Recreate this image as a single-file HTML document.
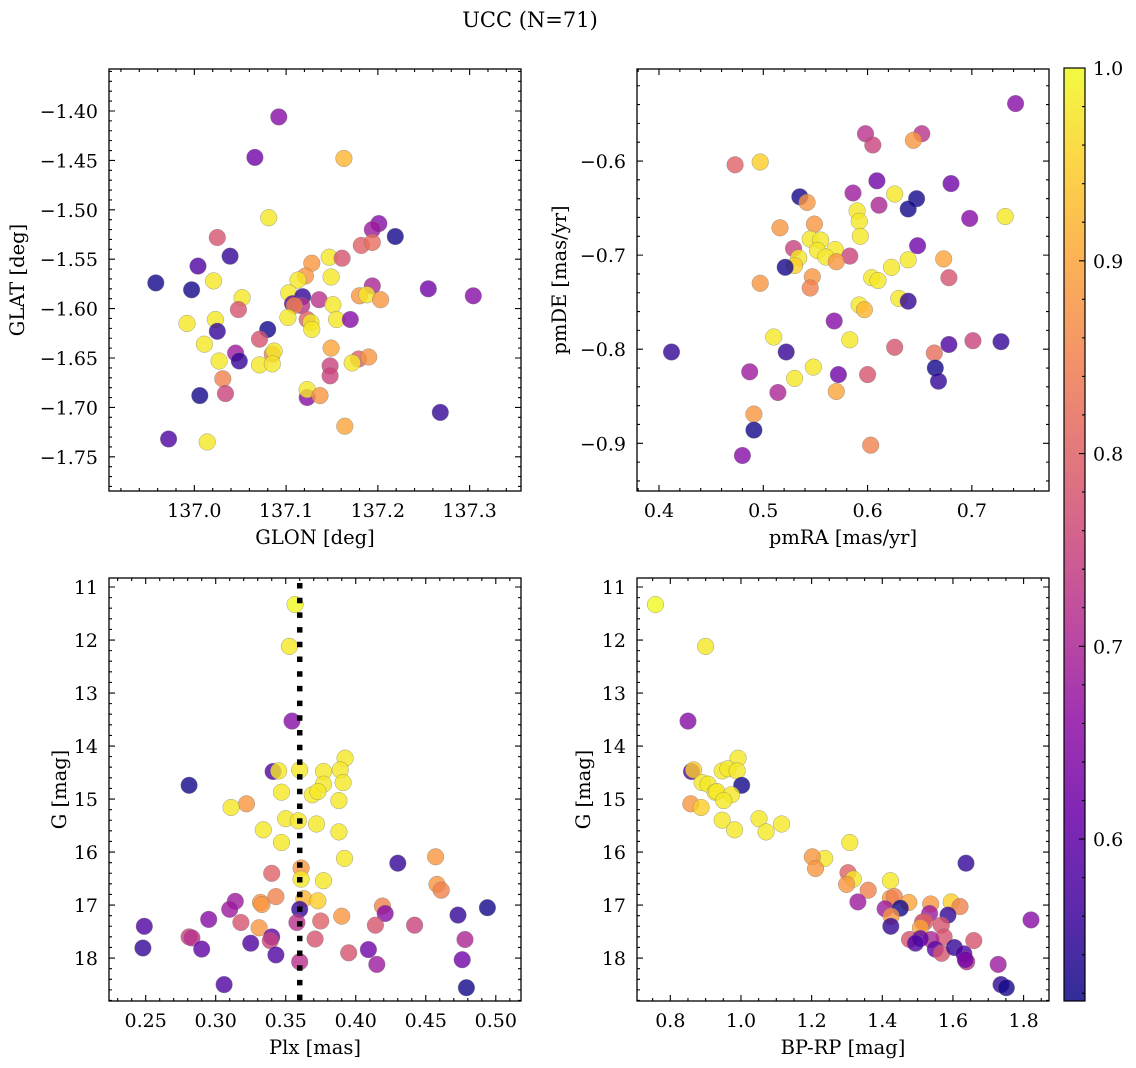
<!DOCTYPE html>
<html><head><meta charset="utf-8"><title>UCC (N=71)</title>
<style>
html,body{margin:0;padding:0;background:#fff;}
svg{display:block;font-family:"DejaVu Serif","Liberation Serif",serif;}
</style></head>
<body>
<svg id="fig" width="1136" height="1068" viewBox="0 0 1136 1068" xmlns="http://www.w3.org/2000/svg">
<defs>
<linearGradient id="cbgrad" x1="0" y1="1" x2="0" y2="0"></linearGradient>
</defs>
<text x="530" y="27" font-size="21" text-anchor="middle">UCC (N=71)</text>
</svg>
<script>
// ---- Panel 1 data: GLON vs GLAT ----
const p1Glon=[137.092,137.066,137.163,137.081,137.025,137.201,137.194,137.219,137.182,137.194,137.039,137.004,137.147,137.161,137.128,137.121,137.149,137.113,136.958,137.021,136.997,137.194,137.255,137.304,137.052,137.103,137.118,137.136,137.180,137.188,137.203,137.107,137.117,137.109,137.151,137.048,137.102,137.123,137.127,137.128,137.155,137.170,136.992,137.023,137.025,137.080,137.071,137.011,137.149,137.045,137.049,137.027,137.085,137.087,137.071,137.085,137.148,137.148,137.179,137.190,137.172,137.031,137.034,137.006,137.123,137.123,137.137,137.268,137.164,136.972,137.014];
const p1Glat=[-1.406,-1.447,-1.448,-1.508,-1.528,-1.514,-1.520,-1.527,-1.536,-1.533,-1.547,-1.557,-1.548,-1.549,-1.554,-1.567,-1.568,-1.571,-1.574,-1.572,-1.581,-1.577,-1.580,-1.587,-1.589,-1.584,-1.588,-1.591,-1.587,-1.586,-1.591,-1.595,-1.597,-1.597,-1.596,-1.601,-1.609,-1.611,-1.614,-1.621,-1.611,-1.611,-1.615,-1.611,-1.623,-1.621,-1.631,-1.636,-1.640,-1.645,-1.653,-1.653,-1.646,-1.643,-1.657,-1.656,-1.658,-1.668,-1.651,-1.649,-1.655,-1.671,-1.686,-1.688,-1.690,-1.682,-1.688,-1.705,-1.719,-1.732,-1.735];
const p1Prob=[0.65,0.62,0.92,0.98,0.78,0.65,0.68,0.52,0.80,0.82,0.55,0.58,0.98,0.78,0.88,0.88,0.98,0.98,0.52,0.98,0.52,0.70,0.62,0.65,0.98,0.98,0.55,0.72,0.88,0.98,0.88,0.60,0.72,0.85,0.98,0.78,0.98,0.80,0.98,0.98,0.98,0.65,0.98,0.98,0.55,0.52,0.78,0.98,0.90,0.68,0.55,0.98,0.85,0.98,0.98,0.98,0.75,0.75,0.80,0.88,0.98,0.85,0.75,0.52,0.65,0.98,0.88,0.55,0.90,0.58,0.98];
// ---- Panel 2 data: pmRA vs pmDE ----
const p2PmRA=[0.742,0.598,0.605,0.652,0.644,0.473,0.497,0.609,0.680,0.586,0.626,0.535,0.542,0.647,0.639,0.611,0.590,0.592,0.698,0.732,0.516,0.549,0.593,0.545,0.555,0.648,0.529,0.569,0.552,0.560,0.583,0.570,0.534,0.530,0.521,0.639,0.673,0.623,0.604,0.610,0.678,0.497,0.547,0.545,0.630,0.639,0.592,0.597,0.568,0.510,0.583,0.412,0.522,0.626,0.678,0.701,0.728,0.664,0.665,0.668,0.487,0.548,0.572,0.600,0.530,0.514,0.570,0.491,0.491,0.603,0.480];
const p2PmDE=[-0.539,-0.571,-0.583,-0.571,-0.578,-0.604,-0.601,-0.621,-0.624,-0.634,-0.635,-0.638,-0.644,-0.640,-0.651,-0.647,-0.653,-0.664,-0.661,-0.659,-0.671,-0.667,-0.680,-0.683,-0.684,-0.690,-0.693,-0.694,-0.695,-0.702,-0.701,-0.707,-0.703,-0.711,-0.713,-0.705,-0.704,-0.713,-0.724,-0.727,-0.724,-0.730,-0.723,-0.735,-0.746,-0.749,-0.753,-0.758,-0.770,-0.787,-0.790,-0.803,-0.803,-0.798,-0.795,-0.791,-0.792,-0.804,-0.820,-0.834,-0.824,-0.819,-0.827,-0.827,-0.831,-0.846,-0.845,-0.869,-0.886,-0.902,-0.913];
const p2Prob=[0.65,0.72,0.75,0.72,0.88,0.80,0.95,0.62,0.62,0.68,0.98,0.52,0.88,0.52,0.52,0.70,0.98,0.98,0.65,0.98,0.88,0.88,0.98,0.98,0.98,0.62,0.75,0.98,0.98,0.98,0.75,0.88,0.98,0.95,0.52,0.98,0.90,0.98,0.98,0.98,0.78,0.88,0.88,0.85,0.98,0.55,0.98,0.92,0.65,0.98,0.98,0.55,0.55,0.78,0.58,0.75,0.55,0.82,0.52,0.55,0.68,0.98,0.62,0.78,0.98,0.70,0.90,0.88,0.52,0.85,0.65];
// ---- Panel 3 data: Plx vs G ----
const p3Plx=[0.3567,0.3526,0.3545,0.3924,0.341,0.345,0.360,0.377,0.389,0.281,0.391,0.377,0.347,0.369,0.373,0.388,0.322,0.311,0.350,0.359,0.372,0.334,0.388,0.347,0.392,0.430,0.457,0.361,0.340,0.361,0.377,0.458,0.461,0.314,0.332,0.333,0.343,0.363,0.373,0.310,0.360,0.419,0.421,0.494,0.473,0.249,0.295,0.318,0.358,0.375,0.390,0.331,0.414,0.442,0.478,0.281,0.283,0.340,0.339,0.371,0.248,0.290,0.325,0.343,0.395,0.409,0.415,0.360,0.476,0.306,0.479];
const p3G=[11.33,12.12,13.53,14.23,14.48,14.47,14.45,14.48,14.45,14.74,14.69,14.72,14.87,14.92,14.86,15.03,15.09,15.16,15.37,15.41,15.47,15.58,15.62,15.82,16.12,16.21,16.09,16.30,16.40,16.51,16.54,16.61,16.72,16.93,16.95,16.99,16.84,16.88,16.92,17.08,17.08,17.02,17.16,17.05,17.19,17.40,17.27,17.33,17.33,17.30,17.21,17.43,17.38,17.38,17.65,17.60,17.62,17.60,17.67,17.64,17.81,17.83,17.72,17.94,17.90,17.84,18.12,18.07,18.03,18.50,18.56];
const p3Prob=[1.0,0.98,0.65,0.98,0.58,0.98,0.98,0.98,0.98,0.52,0.98,0.98,0.98,0.98,0.98,0.98,0.88,0.98,0.98,0.98,0.98,0.98,0.98,0.98,0.98,0.55,0.88,0.88,0.80,0.98,0.98,0.88,0.85,0.68,0.88,0.88,0.85,0.92,0.95,0.68,0.55,0.85,0.65,0.52,0.55,0.58,0.65,0.78,0.72,0.80,0.88,0.88,0.78,0.75,0.70,0.75,0.72,0.60,0.75,0.78,0.55,0.60,0.58,0.58,0.78,0.62,0.68,0.72,0.62,0.58,0.52];
const plxMean=0.36;
// ---- Panel 4 data: BP-RP vs G ----
const p4BpRp=[0.758,0.900,0.850,0.992,0.860,0.866,0.947,0.963,0.989,1.002,0.890,0.907,0.927,0.932,0.973,0.951,0.858,0.887,1.051,1.115,0.947,0.982,1.071,1.308,1.237,1.637,1.202,1.211,1.303,1.318,1.423,1.299,1.360,1.331,1.423,1.434,1.475,1.537,1.595,1.620,1.408,1.451,1.534,1.586,1.425,1.821,1.514,1.521,1.567,1.508,1.424,1.659,1.575,1.477,1.538,1.508,1.494,1.550,1.568,1.604,1.631,1.639,1.728,1.736,1.751,1.635];
const p4G=[11.33,12.12,13.53,14.23,14.48,14.45,14.47,14.43,14.47,14.74,14.69,14.72,14.87,14.86,14.92,15.03,15.09,15.16,15.37,15.47,15.40,15.58,15.62,15.82,16.12,16.21,16.09,16.31,16.39,16.51,16.54,16.61,16.72,16.94,16.87,16.84,16.95,16.98,16.94,17.03,17.07,17.06,17.16,17.19,17.21,17.28,17.32,17.32,17.38,17.43,17.40,17.67,17.60,17.65,17.65,17.63,17.72,17.83,17.91,17.80,17.92,18.07,18.12,18.50,18.56,18.03];
const p4Prob=[1.0,0.98,0.65,0.98,0.58,0.95,0.98,0.98,0.98,0.52,0.98,0.98,0.98,0.98,0.98,0.98,0.88,0.95,0.98,0.98,0.98,0.98,0.98,0.98,0.98,0.55,0.88,0.88,0.80,0.98,0.98,0.88,0.85,0.68,0.88,0.85,0.90,0.88,0.95,0.85,0.68,0.52,0.68,0.55,0.88,0.65,0.75,0.80,0.78,0.90,0.55,0.78,0.78,0.78,0.70,0.60,0.58,0.60,0.78,0.55,0.58,0.72,0.68,0.55,0.52,0.62];
// ---- Tick labels ----
const p1XTicks=[137.0,137.1,137.2,137.3];
const p1YTicks=[-1.40,-1.45,-1.50,-1.55,-1.60,-1.65,-1.70,-1.75];
const p2XTicks=[0.4,0.5,0.6,0.7];
const p2YTicks=[-0.6,-0.7,-0.8,-0.9];
const p3XTicks=[0.25,0.30,0.35,0.40,0.45,0.50];
const gTicks=[11,12,13,14,15,16,17,18];
const p4XTicks=[0.8,1.0,1.2,1.4,1.6,1.8];
const cbTicks=[0.6,0.7,0.8,0.9,1.0];
const cbMin=0.516, cbMax=1.0;

const NS="http://www.w3.org/2000/svg";
const svg=document.getElementById('fig');
const TF=19, LF=19.5;
function mk(tag,attrs,parent){const e=document.createElementNS(NS,tag);for(const k in attrs)e.setAttribute(k,attrs[k]);(parent||svg).appendChild(e);return e;}
const plasma=[[13,8,135],[65,4,157],[106,0,168],[143,13,164],[177,42,144],[204,71,120],[225,100,98],[242,132,75],[252,166,54],[252,206,37],[240,249,33]];
function cmap(t){t=Math.max(0,Math.min(1,t));const f=t*10,i=Math.min(9,Math.floor(f)),r=f-i;const a=plasma[i],b=plasma[i+1];return 'rgb('+a.map((v,k)=>Math.round(v+(b[k]-v)*r)).join(',')+')';}
function pc(p){return cmap((p-cbMin)/(cbMax-cbMin));}
function fmt(v,d){const s=Math.abs(v).toFixed(d);return (v<0?'\u2212':'')+s;}

function panel(cfg){
  const g=mk('g',{});
  
  
  const sx=v=>cfg.x0+(v-cfg.xlim[0])/(cfg.xlim[1]-cfg.xlim[0])*(cfg.x1-cfg.x0);
  const sy=v=>cfg.y1-(v-cfg.ylim[0])/(cfg.ylim[1]-cfg.ylim[0])*(cfg.y1-cfg.y0);
  const pts=mk('g',{},g);
  
  
  for(let i=0;i<cfg.xs.length;i++){
    const c=mk('circle',{cx:sx(cfg.xs[i]).toFixed(1),cy:sy(cfg.ys[i]).toFixed(1),r:8.3,fill:pc(cfg.ps[i]),'fill-opacity':0.8,stroke:'#777','stroke-width':0.5,'stroke-opacity':0.7},pts);
    
    
  }
  if(cfg.vline!==undefined){
    const l=mk('line',{x1:sx(cfg.vline),x2:sx(cfg.vline),y1:cfg.y0+5,y2:cfg.y1,stroke:'#000','stroke-width':5.5,'stroke-dasharray':'5.5 9.2'},g);
    
    
  }
  const fr=mk('rect',{x:cfg.x0,y:cfg.y0,width:cfg.x1-cfg.x0,height:cfg.y1-cfg.y0,fill:'none',stroke:'#000','stroke-width':1.3},g);
  
  
  let d='';
  const lo=Math.min(...cfg.xlim),hi=Math.max(...cfg.xlim);
  for(let k=Math.ceil(lo/cfg.xmin-1e-6);k*cfg.xmin<=hi+1e-9;k++){const x=sx(k*cfg.xmin);d+=`M${x},${cfg.y1}v-3M${x},${cfg.y0}v3`;}
  cfg.xt.forEach(v=>{const x=sx(v);d+=`M${x},${cfg.y1}v-6M${x},${cfg.y0}v6`;});
  const ylo=Math.min(...cfg.ylim),yhi=Math.max(...cfg.ylim);
  for(let k=Math.ceil(ylo/cfg.ymin-1e-6);k*cfg.ymin<=yhi+1e-9;k++){const y=sy(k*cfg.ymin);d+=`M${cfg.x0},${y}h3M${cfg.x1},${y}h-3`;}
  cfg.yt.forEach(v=>{const y=sy(v);d+=`M${cfg.x0},${y}h6M${cfg.x1},${y}h-6`;});
  mk('path',{d:d,stroke:'#000','stroke-width':1.1,fill:'none'},g);
  cfg.xt.forEach(v=>{const t=mk('text',{x:sx(v),y:cfg.y1+26,'font-size':TF,'text-anchor':'middle'},g);t.textContent=fmt(v,cfg.xd);
    
    });
  cfg.yt.forEach(v=>{const t=mk('text',{x:cfg.x0-11,y:sy(v)+7,'font-size':TF,'text-anchor':'end'},g);t.textContent=fmt(v,cfg.yd);
    
    });
  const xl=mk('text',{x:(cfg.x0+cfg.x1)/2,y:cfg.y1+53,'font-size':LF,'text-anchor':'middle'},g);xl.textContent=cfg.xlabel;
  
  
  const yl=mk('text',{x:0,y:0,'font-size':LF,'text-anchor':'middle',transform:`translate(${cfg.ylx},${(cfg.y0+cfg.y1)/2}) rotate(-90)`},g);yl.textContent=cfg.ylabel;
  
  
}
panel({name:'glon-glat-panel',x0:109,y0:69,x1:521,y1:491,xlim:[136.907,137.356],ylim:[-1.7846,-1.3575],xs:p1Glon,ys:p1Glat,ps:p1Prob,xt:p1XTicks,yt:p1YTicks,xmin:0.02,ymin:0.01,xd:1,yd:2,xlabel:'GLON [deg]',ylabel:'GLAT [deg]',ylx:24});
panel({name:'pm-panel',x0:637,y0:69,x1:1049,y1:491,xlim:[0.3789,0.774],ylim:[-0.9507,-0.5022],xs:p2PmRA,ys:p2PmDE,ps:p2Prob,xt:p2XTicks,yt:p2YTicks,xmin:0.02,ymin:0.02,xd:1,yd:1,xlabel:'pmRA [mas/yr]',ylabel:'pmDE [mas/yr]',ylx:566});
panel({name:'plx-g-panel',x0:109,y0:578,x1:521,y1:1001,xlim:[0.2238,0.518],ylim:[18.81,10.83],xs:p3Plx,ys:p3G,ps:p3Prob,xt:p3XTicks,yt:gTicks,xmin:0.01,ymin:0.2,xd:2,yd:0,xlabel:'Plx [mas]',ylabel:'G [mag]',ylx:66,vline:plxMean});
panel({name:'cmd-panel',x0:637,y0:578,x1:1049,y1:1001,xlim:[0.7057,1.8719],ylim:[18.81,10.83],xs:p4BpRp,ys:p4G,ps:p4Prob,xt:p4XTicks,yt:gTicks,xmin:0.05,ymin:0.2,xd:1,yd:0,xlabel:'BP-RP [mag]',ylabel:'G [mag]',ylx:590});

const grad=document.getElementById('cbgrad');
for(let i=0;i<=20;i++){mk('stop',{offset:(i/20),'stop-color':cmap(i/20),'stop-opacity':0.85},grad);}
const cb=mk('g',{});


const cx0=1064,cx1=1085,cy0=68,cy1=1001;
const cs=v=>cy1-(v-cbMin)/(cbMax-cbMin)*(cy1-cy0);
mk('rect',{x:cx0,y:cy0,width:cx1-cx0,height:cy1-cy0,fill:'url(#cbgrad)',stroke:'#000','stroke-width':1.2},cb);
let cd='';
for(let k=Math.ceil(cbMin/0.02);k*0.02<=cbMax+1e-9;k++){cd+=`M${cx1},${cs(k*0.02)}h-3`;}
cbTicks.forEach(v=>{cd+=`M${cx1},${cs(v)}h-6`;});
mk('path',{d:cd,stroke:'#000','stroke-width':1.1},cb);
cbTicks.forEach(v=>{const t=mk('text',{x:cx1+8,y:cs(v)+7,'font-size':TF},cb);t.textContent=v.toFixed(1);
  
  });
</script>
</body></html>
